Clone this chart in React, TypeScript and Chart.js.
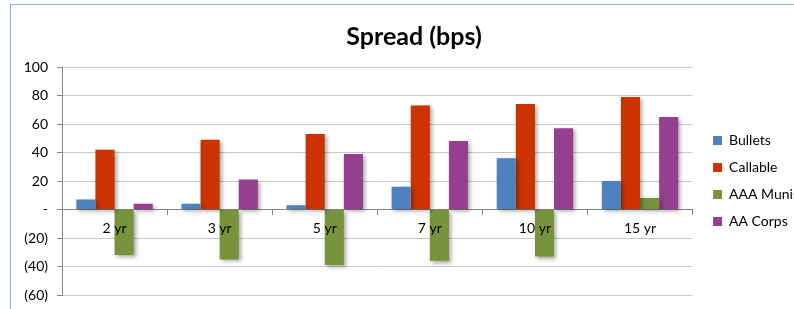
import React, { useEffect, useRef } from "react";
import { Chart, registerables } from "chart.js";

Chart.register(...registerables);

const categories = ["2 yr", "3 yr", "5 yr", "7 yr", "10 yr", "15 yr"];
const seriesNames = ["Bullets", "Callable", "AAA Munis", "AA Corps"];
const bullets = [7, 4, 3, 16, 36, 20];
const callable = [42, 49, 53, 73, 74, 79];
const aaaMunis = [-32, -35, -39, -36, -33, 8];
const aaCorps = [4, 21, 39, 48, 57, 65];
const seriesColors = ["#4F81BD", "#CC3300", "#77933C", "#953F8F"];
const yTickValues = [100, 80, 60, 40, 20, 0, -20, -40, -60];
const yTickLabels = ["100", "80", "60", "40", "20", "-", "(20)", "(40)", "(60)"];

const FONT = "Lato, 'Liberation Sans', sans-serif";

const shadowPlugin = {
  id: "barShadow",
  beforeDatasetsDraw(chart: any) {
    const ctx = chart.ctx;
    ctx.save();
    ctx.shadowColor = "rgba(0,0,0,0.35)";
    ctx.shadowBlur = 4;
    ctx.shadowOffsetX = 2;
    ctx.shadowOffsetY = 2;
  },
  afterDatasetsDraw(chart: any) {
    chart.ctx.restore();
  },
};

export default function App() {
  const ref = useRef<HTMLCanvasElement | null>(null);

  useEffect(() => {
    if (!ref.current) return;
    const values = [bullets, callable, aaaMunis, aaCorps];
    const chart = new Chart(ref.current, {
      type: "bar",
      data: {
        labels: categories,
        datasets: seriesNames.map((name, i) => ({
          label: name,
          data: values[i],
          backgroundColor: seriesColors[i],
          borderWidth: 0,
          categoryPercentage: 0.727,
          barPercentage: 1,
        })),
      },
      plugins: [shadowPlugin],
      options: {
        responsive: false,
        animation: false,
        devicePixelRatio: 1,
        layout: { padding: { left: 8, right: 0, top: 0, bottom: 30 } },
        plugins: {
          title: {
            display: true,
            text: "Spread (bps)",
            color: "#000",
            font: { family: FONT, size: 25, weight: "bold" },
            padding: { top: 17, bottom: 15 },
          },
          legend: {
            display: true,
            position: "right",
            align: "center",
            fullSize: false,
            labels: {
              boxWidth: 9,
              boxHeight: 9,
              padding: 13,
              color: "#000",
              font: { family: FONT, size: 14 },
            },
          },
          tooltip: { enabled: false },
        },
        scales: {
          x: {
            type: "category",
            position: { y: 0 } as any,
            offset: true,
            grid: {
              display: true,
              drawOnChartArea: false,
              drawTicks: true,
              tickLength: 5,
              offset: true,
              color: "#868686",
            },
            border: { display: true, color: "#868686" },
            ticks: {
              z: 1,
              color: "#000",
              font: { family: FONT, size: 14 },
              padding: 6,
              maxRotation: 0,
              autoSkip: false,
            },
          },
          y: {
            type: "linear",
            position: "left",
            min: -60,
            max: 100,
            afterFit: (s: any) => {
              s.width = 43;
            },
            ticks: {
              stepSize: 20,
              color: "#000",
              font: { family: FONT, size: 14 },
              padding: 9,
              callback: (v: any) => {
                const idx = yTickValues.indexOf(Number(v));
                return idx >= 0 ? yTickLabels[idx] : "";
              },
            },
            grid: {
              color: "#C8C8C8",
              tickColor: "#868686",
              tickLength: 5,
            },
            border: { display: true, color: "#868686" },
          },
          gap: {
            type: "linear",
            position: "right",
            display: true,
            afterFit: (s: any) => {
              s.width = 7.5;
            },
            ticks: { display: false },
            grid: { display: false, drawTicks: false },
            border: { display: false },
          },
        },
      } as any,
    });
    return () => chart.destroy();
  }, []);

  return (
    <div
      style={{
        position: "fixed",
        left: 0,
        top: 0,
        width: 794,
        height: 309,
        overflow: "hidden",
        background: "#fff",
      }}
    >
      <div
        style={{
          position: "absolute",
          left: 10,
          top: 4,
          width: 798,
          height: 320,
          border: "1px solid #8DB3E2",
        }}
      >
        <canvas ref={ref} width={798} height={320} style={{ display: "block" }} />
      </div>
    </div>
  );
}
